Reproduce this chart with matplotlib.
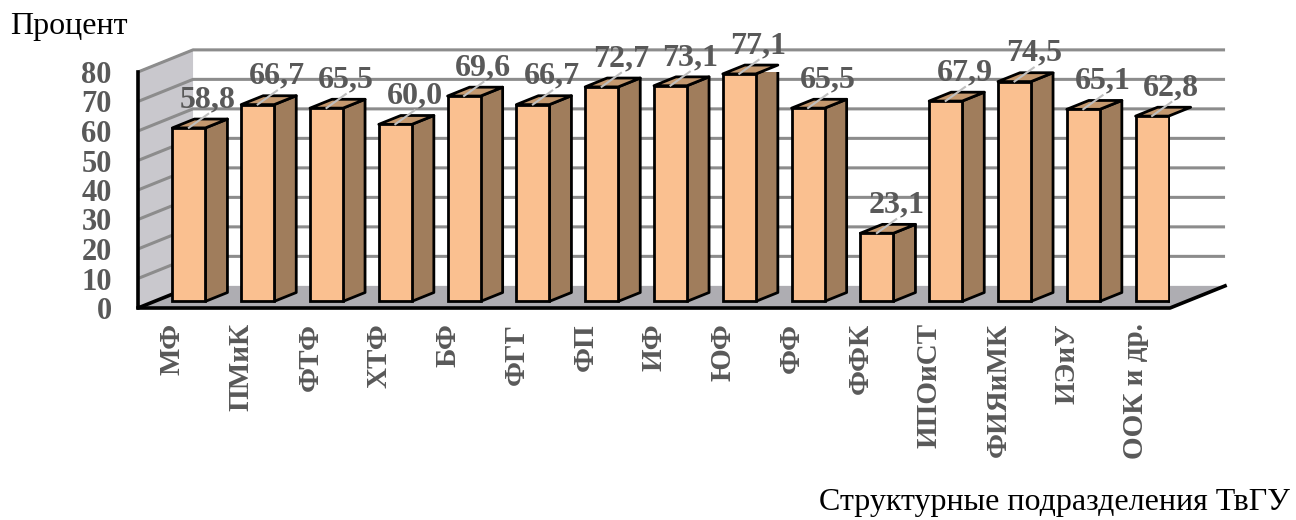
import numpy as np
import matplotlib
matplotlib.use("Agg")
import matplotlib.pyplot as plt
from matplotlib.patches import Polygon

plt.rcParams['font.family'] = ['Liberation Serif', 'DejaVu Serif']

# data
units = ['МФ', 'ПМиК', 'ФТФ', 'ХТФ', 'БФ', 'ФГГ', 'ФП', 'ИФ', 'ЮФ', 'ФФ',
         'ФФК', 'ИПОиСТ', 'ФИЯиМК', 'ИЭиУ', 'ООК и др.']
percent = [58.8, 66.7, 65.5, 60.0, 69.6, 66.7, 72.7, 73.1, 77.1, 65.5,
           23.1, 67.9, 74.5, 65.1, 62.8]
y_ticks = [0, 10, 20, 30, 40, 50, 60, 70, 80]

FRONT = '#FAC090'
SIDE = '#A07D5C'
TOP = '#C4986E'
WALL = '#C9C8CD'
FLOOR = '#AEADB2'
GRID = '#8C8C8C'
LABEL = '#595959'

# oblique depth of the 3d box, in data units (x: categories, y: percent)
DX, DY = 0.8, 7.5
T0, T1 = 0.3, 0.7     # bar front / back depth fraction
BAR_W = 0.48

fig = plt.figure(figsize=(12.96, 5.2), dpi=100)
ax = fig.add_axes([138 / 1296, 212 / 520, 1032 / 1296, 236 / 520])
n = len(units)
x = np.arange(n)
x0, x1 = -0.5, n - 0.5
ymax = y_ticks[-1]
ax.set_xlim(x0, x1)
ax.set_ylim(0, ymax)
for s in ax.spines.values():
    s.set_visible(False)
ax.patch.set_visible(False)

# left wall
ax.add_patch(Polygon([(x0, 0), (x0, ymax), (x0 + DX, ymax + DY), (x0 + DX, DY)],
                     closed=True, facecolor=WALL, edgecolor='none', zorder=0.5, clip_on=False))
ax.plot([x0, x0 + DX], [ymax, ymax + DY], color='#A0A0A0', lw=1.2, zorder=0.8, clip_on=False)

# gridlines on left and back wall
for g in y_ticks[1:]:
    ax.plot([x0, x0 + DX, x1 + DX], [g, g + DY, g + DY], color=GRID, lw=2.2,
            zorder=1, clip_on=False, solid_capstyle='butt')

# floor
ax.add_patch(Polygon([(x0, 0), (x1, 0), (x1 + DX, DY), (x0 + DX, DY)],
                     closed=True, facecolor=FLOOR, edgecolor='none', zorder=1.5, clip_on=False))
ax.plot([x0 + DX, x0, x0], [DY, 0, ymax], color='black', lw=2.6, zorder=1.6, clip_on=False)
ax.plot([x0, x1, x1 + DX], [0, 0, DY], color='black', lw=2.6, zorder=1.6, clip_on=False)

# bars
xf = x + T0 * DX
base = T0 * DY
ddx, ddy = (T1 - T0) * DX, (T1 - T0) * DY
ax.bar(xf, percent, width=BAR_W, bottom=base, color=FRONT, edgecolor='black',
       linewidth=2, zorder=3)
for xi, v in zip(xf, percent):
    xl, xr = xi - BAR_W / 2, xi + BAR_W / 2
    top = base + v
    ax.add_patch(Polygon([(xr, base), (xr + ddx, base + ddy), (xr + ddx, top + ddy), (xr, top)],
                         closed=True, facecolor=SIDE, edgecolor='black', lw=2, zorder=2.9,
                         joinstyle='round'))
    ax.add_patch(Polygon([(xl, top), (xr, top), (xr + ddx, top + ddy), (xl + ddx, top + ddy)],
                         closed=True, facecolor=TOP, edgecolor='black', lw=2, zorder=2.9,
                         joinstyle='round', clip_on=False))

# data labels with short leader lines
for xi, v in zip(x, percent):
    ax.plot([xi + 0.24, xi + 0.52], [v + 2.3, v + 7.0], color='#BFBFBF', lw=1.5,
            zorder=3.5, clip_on=False)
    ax.text(xi + 0.52, v + 9.3, f'{v:.1f}'.replace('.', ','), ha='center', va='baseline',
            fontsize=23, fontweight='bold', color=LABEL, zorder=4, clip_on=False)

ax.set_yticks(y_ticks)
ax.set_yticklabels([str(t) for t in y_ticks], fontsize=22, fontweight='bold', color=LABEL)
ax.set_xticks(x)
ax.set_xticklabels(units, rotation=90, fontsize=21, fontweight='bold', color=LABEL)
ax.tick_params(axis='y', length=0, pad=19)
ax.tick_params(axis='x', length=0, pad=11)

fig.text(10 / 1296, 1 - 34 / 520, 'Процент', fontsize=23, ha='left', va='baseline')
fig.text(1290 / 1296, 1 - 510 / 520, 'Структурные подразделения ТвГУ', fontsize=23,
         ha='right', va='baseline')

fig.savefig('out.png', dpi=100)
